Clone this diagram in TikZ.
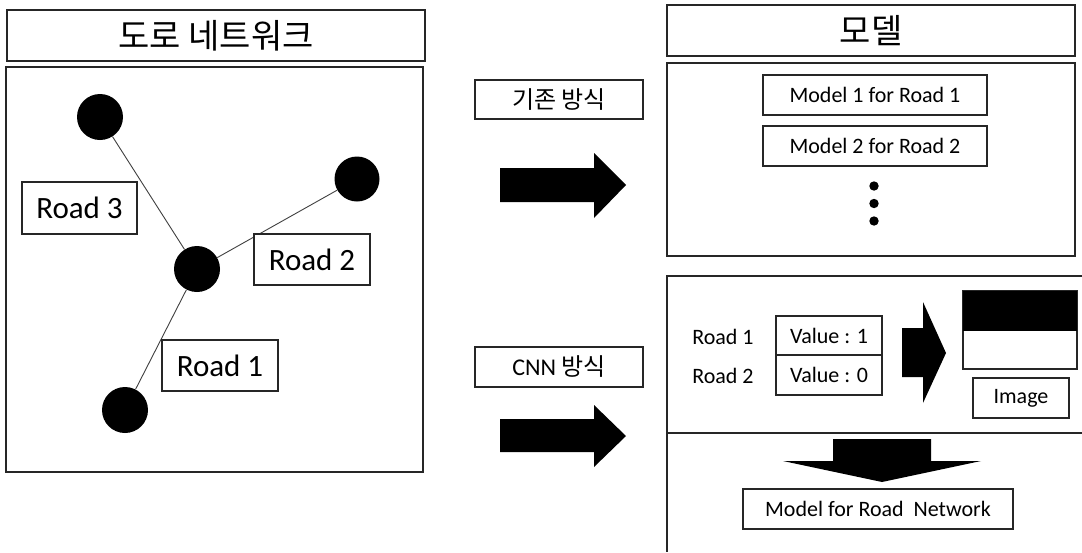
\documentclass[tikz,border=0pt]{standalone}
\usepackage{fontspec}
\setmainfont{Carlito}
\newfontfamily\kr{Noto Sans CJK KR}
\begin{document}
\begin{tikzpicture}[x=1pt,y=-1pt,
  box/.style={draw=black!85, line width=1.3pt, fill=white, inner sep=0pt, font=\fontsize{22}{26}\selectfont},
  bigtext/.style={font=\fontsize{31}{36}\selectfont},
  krtitle/.style={font=\kr\fontsize{34}{40}\selectfont},
  krlabel/.style={font=\kr\fontsize{24}{28}\selectfont},
  plain/.style={inner sep=0pt, font=\fontsize{22}{26}\selectfont},
  junction/.style={circle, fill=black, inner sep=0pt, minimum size=46pt},
  road/.style={draw=black!75, line width=0.9pt},
  blockarrow/.style={fill=black},
  panel/.style={draw=black!85, line width=1.3pt}
]
\useasboundingbox (0,0) rectangle (1082,552);

% ---- road network panel ----
\node[box, krtitle, minimum width=418pt, minimum height=51pt] (nettitle) at (216,35.5) {도로 네트워크};
\node[box, minimum width=417pt, minimum height=405pt] (netpanel) at (214.5,269.5) {};

\node[junction] (n3) at (100,117) {};
\node[junction, minimum size=45pt] (n2) at (357,179) {};
\node[junction] (hub) at (197,269) {};
\node[junction] (n1) at (125,410) {};
\draw[road] (hub) -- (n3);
\draw[road] (hub) -- (n2);
\draw[road] (hub) -- (n1);

\node[box, bigtext, minimum width=115pt, minimum height=52pt] (r3) at (79.5,208) {Road 3};
\node[box, bigtext, minimum width=116pt, minimum height=51pt] (r2) at (312,259.5) {Road 2};
\node[box, bigtext, minimum width=116pt, minimum height=51pt] (r1) at (220,365.5) {Road 1};

% ---- method labels and arrows ----
\node[box, krlabel, minimum width=168pt, minimum height=39pt] (oldway) at (559,99.5) {기존 방식};
\node[box, krlabel, minimum width=168pt, minimum height=40pt] (cnnway) at (559,367) {\fontspec{Carlito}CNN {\kr 방식}};

\fill[blockarrow] (500,168) -- (594,168) -- (594,153) -- (626,185) -- (594,218) -- (594,202) -- (500,202) -- cycle;
\fill[blockarrow] (500,419) -- (594,419) -- (594,405) -- (626,436) -- (594,467) -- (594,452) -- (500,452) -- cycle;

% ---- model panel ----
\node[box, krtitle, minimum width=408pt, minimum height=51pt] (modeltitle) at (871,30.5) {모델};
\node[box, minimum width=408pt, minimum height=193pt] (modelpanel) at (871,159.5) {};
\node[box, minimum width=224pt, minimum height=40pt] (m1) at (875,95) {Model 1 for Road 1};
\node[box, minimum width=224pt, minimum height=40pt] (m2) at (875,146) {Model 2 for Road 2};
\fill (874,186) circle (4.7);
\fill (874,203.5) circle (4.7);
\fill (874,221) circle (4.7);

% ---- CNN panel (open to the right and bottom) ----
\draw[panel] (1082,276) -- (667,276) -- (667,552);
\draw[panel] (667,433) -- (1082,433);

\node[plain] (lab1) at (723,337) {Road 1};
\node[plain] (lab2) at (723,376) {Road 2};
\node[box, minimum width=106pt, minimum height=39pt] (v1) at (829,335.5) {Value : 1};
\node[box, minimum width=106pt, minimum height=40pt] (v2) at (829,375) {Value : 0};

\fill[blockarrow] (902,328) -- (923,328) -- (923,302) -- (946,353) -- (923,403) -- (923,377) -- (902,377) -- cycle;

\node[box, fill=white, minimum width=114pt, minimum height=78pt] (img) at (1020,330) {};
\fill (img.north west) rectangle (1077,331);
\draw[draw=black!85, line width=1.3pt] (img.north west) rectangle (img.south east);
\node[box, minimum width=96pt, minimum height=40pt] (imglabel) at (1021,398) {Image};

\fill[blockarrow] (833,439) -- (931,439) -- (931,461) -- (981,461) -- (882,482) -- (783,461) -- (833,461) -- cycle;
\node[box, minimum width=270pt, minimum height=40pt] (netmodel) at (878,509) {Model for Road\ \ Network};
\end{tikzpicture}
\end{document}
